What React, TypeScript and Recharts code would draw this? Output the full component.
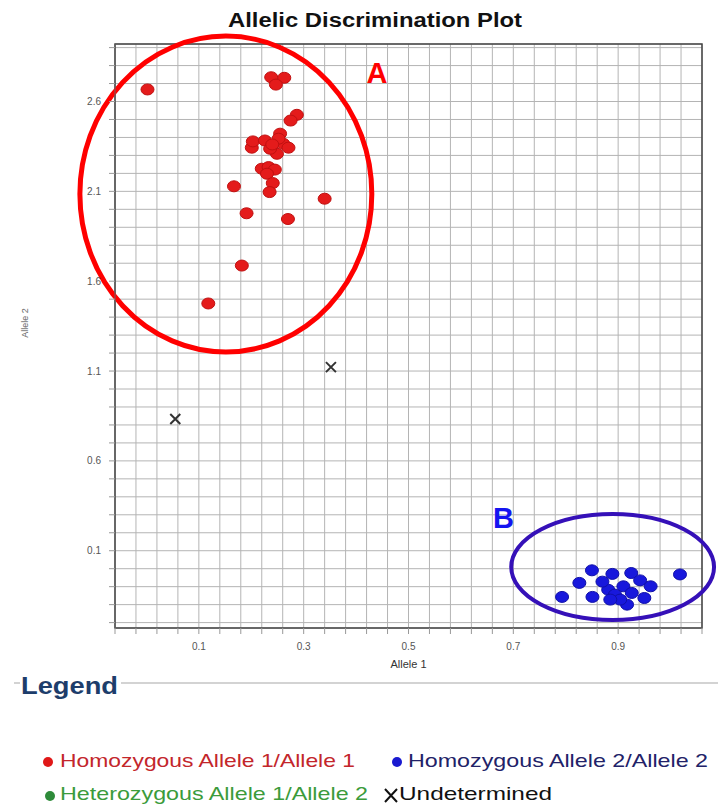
import React from 'react'
import { CartesianGrid, ReferenceArea, ReferenceDot, Scatter, ScatterChart, XAxis, YAxis } from 'recharts'

const FONT = '"Liberation Sans", Arial, sans-serif'

// genotype calls (Allele 1 on x, Allele 2 on y)
const homozygous11 = [
  { x: 0.002, y: 2.667 },
  { x: 0.238, y: 2.735 },
  { x: 0.263, y: 2.732 },
  { x: 0.247, y: 2.694 },
  { x: 0.287, y: 2.526 },
  { x: 0.275, y: 2.494 },
  { x: 0.201, y: 2.343 },
  { x: 0.203, y: 2.378 },
  { x: 0.226, y: 2.383 },
  { x: 0.255, y: 2.421 },
  { x: 0.261, y: 2.365 },
  { x: 0.249, y: 2.309 },
  { x: 0.236, y: 2.337 },
  { x: 0.271, y: 2.343 },
  { x: 0.252, y: 2.393 },
  { x: 0.24, y: 2.361 },
  { x: 0.22, y: 2.226 },
  { x: 0.233, y: 2.235 },
  { x: 0.245, y: 2.221 },
  { x: 0.23, y: 2.198 },
  { x: 0.241, y: 2.146 },
  { x: 0.235, y: 2.096 },
  { x: 0.167, y: 2.128 },
  { x: 0.34, y: 2.059 },
  { x: 0.191, y: 1.978 },
  { x: 0.27, y: 1.946 },
  { x: 0.182, y: 1.687 },
  { x: 0.118, y: 1.476 },
]

const homozygous22 = [
  { x: 0.85, y: -0.009 },
  { x: 0.826, y: -0.079 },
  { x: 0.793, y: -0.157 },
  { x: 0.851, y: -0.157 },
  { x: 1.018, y: -0.032 },
  { x: 0.889, y: -0.029 },
  { x: 0.925, y: -0.024 },
  { x: 0.942, y: -0.065 },
  { x: 0.962, y: -0.098 },
  { x: 0.95, y: -0.163 },
  { x: 0.881, y: -0.117 },
  { x: 0.894, y: -0.144 },
  { x: 0.91, y: -0.098 },
  { x: 0.917, y: -0.2 },
  { x: 0.904, y: -0.172 },
  { x: 0.926, y: -0.135 },
  { x: 0.885, y: -0.172 },
  { x: 0.87, y: -0.072 },
]

const heterozygous: { x: number; y: number }[] = []

const undetermined = [
  { x: 0.352, y: 1.122 },
  { x: 0.055, y: 0.833 },
]

// cluster rings drawn by hand on the original
const clusterRings = [
  { label: 'A', x1: -0.127, x2: 0.43, y1: 1.206, y2: 2.964, color: '#ff0000', width: 5, lx: 0.44, ly: 2.756, labelColor: '#ff0000' },
  { label: 'B', x1: 0.696, x2: 1.083, y1: -0.285, y2: 0.304, color: '#3510b8', width: 4, lx: 0.681, ly: 0.283, labelColor: '#1414f0' },
]

const X_DOMAIN = [-0.06, 1.06]
const Y_DOMAIN = [-0.33, 2.92]
const X_LABELS = [0.1, 0.3, 0.5, 0.7, 0.9]
const Y_LABELS = [0.1, 0.6, 1.1, 1.6, 2.1, 2.6]

const legendItems = [
  { name: 'Homozygous Allele 1/Allele 1', color: '#e01818', text: '#c3262b' },
  { name: 'Homozygous Allele 2/Allele 2', color: '#1a1ad0', text: '#222268' },
  { name: 'Heterozygous Allele 1/Allele 2', color: '#2e8b3a', text: '#3b9b3b' },
  { name: 'Undetermined', color: '#111', text: '#111' },
]

function steps(start: number, end: number, step: number) {
  const out: number[] = []
  for (let v = start; v <= end + 1e-9; v += step) out.push(Math.round(v * 1000) / 1000)
  return out
}

const xTicks = steps(-0.06, 1.06, 0.04)
const yTicks = steps(-0.3, 2.9, 0.1)

const hasLabel = (list: number[]) => (v: number) =>
  list.some((l) => Math.abs(l - v) < 1e-6) ? v.toFixed(1) : ''

const dotShape = (fill: string, edge: string) => (p: any) =>
  <ellipse cx={p.cx} cy={p.cy} rx={6.5} ry={5.5} fill={fill} stroke={edge} strokeWidth={1} />

const crossShape = (p: any) => {
  const s = 5
  const { cx, cy } = p
  return (
    <path
      d={`M${cx - s},${cy - s}L${cx + s},${cy + s}M${cx - s},${cy + s}L${cx + s},${cy - s}`}
      stroke="#333"
      strokeWidth={2}
    />
  )
}

const tickStyle = { fontSize: 10, fill: '#555', fontFamily: FONT }

export default function App() {
  return (
    <div style={{ position: 'absolute', left: 0, top: 0, width: 718, height: 804, background: '#fff', fontFamily: FONT }}>
      <ScatterChart width={718} height={680} margin={{ top: 44, right: 16, bottom: 12, left: 10 }}>
        <CartesianGrid stroke="#b4b4b4" strokeWidth={1} />
        <XAxis
          type="number"
          dataKey="x"
          domain={X_DOMAIN}
          ticks={xTicks}
          interval={0}
          height={40}
          tickSize={6}
          tickMargin={9}
          tick={tickStyle}
          tickFormatter={hasLabel(X_LABELS)}
          axisLine={{ stroke: '#666' }}
          tickLine={{ stroke: '#999' }}
          label={{ value: 'Allele 1', position: 'insideBottom', offset: 0, fontSize: 11, fill: '#333', fontFamily: FONT }}
        />
        <YAxis
          type="number"
          dataKey="y"
          domain={Y_DOMAIN}
          ticks={yTicks}
          interval={0}
          width={105}
          tickSize={6}
          tickMargin={8}
          tick={tickStyle}
          tickFormatter={hasLabel(Y_LABELS)}
          axisLine={{ stroke: '#666' }}
          tickLine={{ stroke: '#999' }}
          label={{
            value: 'Allele 2',
            content: ({ viewBox }: any) => {
              const x = viewBox.x + 15
              const y = viewBox.y + viewBox.height / 2 - 13
              return (
                <text x={x} y={y} transform={`rotate(-90 ${x} ${y})`} textAnchor="middle" dominantBaseline="central" fontSize={9} fill="#666" fontFamily={FONT}>
                  Allele 2
                </text>
              )
            },
          }}
        />
        <ReferenceArea x1={X_DOMAIN[0]} x2={X_DOMAIN[1]} y1={Y_DOMAIN[0]} y2={Y_DOMAIN[1]} fill="none" stroke="#444" strokeWidth={1.5} ifOverflow="visible" />
        <Scatter name={legendItems[0].name} data={homozygous11} shape={dotShape('#e41b1b', '#c01010')} isAnimationActive={false} />
        <Scatter name={legendItems[1].name} data={homozygous22} shape={dotShape('#1818dc', '#1010a8')} isAnimationActive={false} />
        <Scatter name={legendItems[2].name} data={heterozygous} shape={dotShape('#2e8b3a', '#1f6b2a')} isAnimationActive={false} />
        <Scatter name={legendItems[3].name} data={undetermined} shape={crossShape} isAnimationActive={false} />
        {clusterRings.map((r) => (
          <ReferenceArea
            key={`ring-${r.label}`}
            x1={r.x1}
            x2={r.x2}
            y1={r.y1}
            y2={r.y2}
            ifOverflow="visible"
            shape={(p: any) => (
              <ellipse cx={p.x + p.width / 2} cy={p.y + p.height / 2} rx={Math.abs(p.width) / 2} ry={Math.abs(p.height) / 2} fill="none" stroke={r.color} strokeWidth={r.width} />
            )}
          />
        ))}
        {clusterRings.map((r) => (
          <ReferenceDot
            key={`lab-${r.label}`}
            x={r.lx}
            y={r.ly}
            ifOverflow="visible"
            shape={(p: any) => (
              <text x={p.cx} y={p.cy} textAnchor="middle" dominantBaseline="central" fontSize={29} fontWeight="bold" fill={r.labelColor} fontFamily={FONT}>
                {r.label}
              </text>
            )}
          />
        ))}
      </ScatterChart>

      <svg width={718} height={804} style={{ position: 'absolute', left: 0, top: 0, pointerEvents: 'none' }}>
        <text x={375} y={27} textAnchor="middle" fontSize={20} fontWeight="bold" fill="#111" textLength={294} lengthAdjust="spacingAndGlyphs" fontFamily={FONT}>
          Allelic Discrimination Plot
        </text>

        <line x1={14} x2={20} y1={683} y2={683} stroke="#c4c4c4" strokeWidth={1.5} />
        <line x1={121} x2={718} y1={683} y2={683} stroke="#c4c4c4" strokeWidth={1.5} />
        <text x={21} y={694} fontSize={23} fontWeight="bold" fill="#1d3d6b" textLength={97} lengthAdjust="spacingAndGlyphs" fontFamily={FONT}>
          Legend
        </text>

        <circle cx={48} cy={762} r={5} fill={legendItems[0].color} />
        <text x={60} y={767} fontSize={19} fill={legendItems[0].text} textLength={295} lengthAdjust="spacingAndGlyphs" fontFamily={FONT}>
          {legendItems[0].name}
        </text>
        <circle cx={397} cy={762} r={5} fill={legendItems[1].color} />
        <text x={408} y={767} fontSize={19} fill={legendItems[1].text} textLength={300} lengthAdjust="spacingAndGlyphs" fontFamily={FONT}>
          {legendItems[1].name}
        </text>
        <circle cx={50} cy={796} r={5} fill={legendItems[2].color} />
        <text x={60} y={800} fontSize={19} fill={legendItems[2].text} textLength={308} lengthAdjust="spacingAndGlyphs" fontFamily={FONT}>
          {legendItems[2].name}
        </text>
        <path d="M385,789L397,802M385,802L397,789" stroke={legendItems[3].color} strokeWidth={2} />
        <text x={399} y={800} fontSize={19} fill={legendItems[3].text} textLength={153} lengthAdjust="spacingAndGlyphs" fontFamily={FONT}>
          {legendItems[3].name}
        </text>
      </svg>
    </div>
  )
}
